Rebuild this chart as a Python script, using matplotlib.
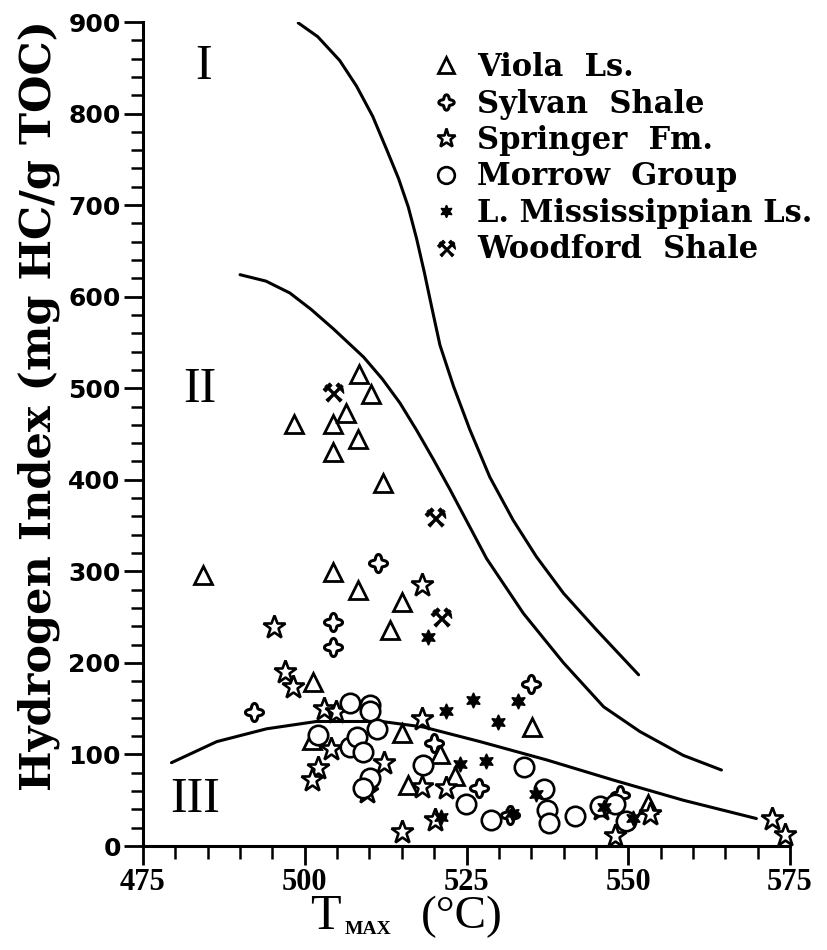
import numpy as np
import matplotlib
matplotlib.use("Agg")
import matplotlib.pyplot as plt
from matplotlib.lines import Line2D
from matplotlib.path import Path
from matplotlib.ticker import MultipleLocator

# ---------------- data ----------------
viola_x = [484.3, 498.3, 504.3, 504.3, 506.4, 508.4, 510.2, 508.3, 512.1, 504.3, 508.3, 515.1,
           513.2, 501.2, 515.0, 501.1, 520.9, 516.0, 523.2, 535.1, 553.1]
viola_y = [296, 461, 461, 430, 473, 516, 494, 445, 396, 299, 280, 267,
           236, 179, 123, 116, 101, 67, 77, 130, 46]

sylvan_x = [511.3, 504.3, 504.3, 492.2, 519.9, 527.0, 535.0, 531.8, 541.8, 548.8]
sylvan_y = [309, 245, 217, 146, 112, 63, 177, 34, 33, 56]

springer_x = [518.1, 495.3, 497.0, 498.2, 502.9, 504.9, 518.1, 504.1, 512.2, 502.1, 501.1,
              509.6, 518.1, 521.9, 515.0, 520.2, 545.8, 553.3, 548.0, 572.2, 574.2]
springer_y = [285, 239, 190, 174, 150, 146, 139, 106, 91, 85, 72,
              59, 64, 63, 15, 28, 40, 35, 11, 30, 12]

morrow_x = [507.0, 510.1, 510.1, 502.1, 507.0, 508.0, 509.0, 511.1, 510.1, 509.0, 518.2,
            524.9, 533.9, 537.0, 537.5, 537.7, 528.8, 541.8, 545.6, 548.0, 549.7]
morrow_y = [156, 154, 147, 121, 108, 119, 103, 128, 74, 63, 88,
            46, 86, 62, 39, 25, 28, 33, 44, 46, 27]

lmiss_x = [519.1, 521.8, 526.0, 532.9, 529.8, 524.0, 528.0, 521.1, 535.8, 532.0, 550.8, 546.2]
lmiss_y = [228, 147, 160, 158, 135, 90, 93, 32, 57, 36, 31, 43]

woodford_x = [504.3, 520.2, 521.1]
woodford_y = [496, 359, 250]

# boundary curves
c1_x = [499.0, 502.0, 505.4, 508.0, 510.5, 512.7, 514.5, 516.0, 517.3, 518.5, 519.7, 520.9, 523.0,
        525.5, 528.6, 532.2, 535.8, 540.0, 545.1, 551.6]
c1_y = [899, 884, 858, 830, 797, 760, 729, 698, 663, 626, 586, 547, 502,
        455, 403, 356, 316, 276, 236, 187]

c2_x = [490.0, 494.0, 497.7, 501.0, 504.4, 509.1, 512.0, 514.7, 517.3, 519.9, 522.4, 524.5,
        528.1, 533.8, 540.0, 546.2, 551.8, 558.5, 564.4]
c2_y = [624, 617, 604, 586, 565, 534, 510, 484, 454, 422, 390, 362,
        314, 254, 200, 152, 125, 99, 83]

c3_x = [479.4, 486.4, 494.1, 501.8, 511.9, 518.3, 527.1, 537.4, 547.7, 558.5, 569.8]
c3_y = [91, 114, 128, 136, 136, 130, 114, 94, 72, 50, 30]

series_labels = ["Viola  Ls.", "Sylvan  Shale", "Springer  Fm.", "Morrow  Group",
                 "L. Mississippian Ls.", "Woodford  Shale"]
region_labels = ["I", "II", "III"]
region_x = [484.3, 483.8, 483.0]
region_y = [851, 498, 50]

# ---------------- markers ----------------
th = np.linspace(0, 2 * np.pi, 121)
r = 1 + 0.28 * np.cos(4 * th)
quat = Path(np.column_stack([r * np.cos(th), r * np.sin(th)]), closed=True)

styles = [
    dict(marker="^", ms=13, mfc="white", mec="black", mew=2.0),
    dict(marker=quat, ms=13, mfc="white", mec="black", mew=2.2),
    dict(marker="*", ms=17, mfc="white", mec="black", mew=1.9),
    dict(marker="o", ms=14, mfc="white", mec="black", mew=1.9),
    dict(marker=(6, 1, 0), ms=11, mfc="black", mec="black", mew=1.0),
    dict(marker="$\u2692$", ms=15, mfc="black", mec="black", mew=0.6),
]
data = [(viola_x, viola_y), (sylvan_x, sylvan_y), (springer_x, springer_y),
        (morrow_x, morrow_y), (lmiss_x, lmiss_y), (woodford_x, woodford_y)]

W, H = 827, 950
fig = plt.figure(figsize=(W / 100, H / 100), dpi=100)
ax = fig.add_axes([143 / W, 1 - 846 / H, (790 - 143) / W, (846 - 22) / H])
ax.set_xlim(475, 575)
ax.set_ylim(0, 900)

for lx, ly in [(c1_x, c1_y), (c2_x, c2_y), (c3_x, c3_y)]:
    ax.plot(lx, ly, color="black", lw=2.2, solid_capstyle="round", solid_joinstyle="round", zorder=2)

for (xs, ys), st in zip(data, styles):
    ax.plot(xs, ys, ls="none", clip_on=False, zorder=3, **st)

for t, x, y in zip(region_labels, region_x, region_y):
    ax.text(x, y, t, fontsize=36, family="Liberation Serif", ha="center", va="center")

for s in ["top", "right"]:
    ax.spines[s].set_visible(False)
for s in ["left", "bottom"]:
    ax.spines[s].set_linewidth(2.2)

ax.xaxis.set_major_locator(MultipleLocator(25))
ax.xaxis.set_minor_locator(MultipleLocator(5))
ax.yaxis.set_major_locator(MultipleLocator(100))
ax.yaxis.set_minor_locator(MultipleLocator(20))
ax.tick_params(which="major", direction="out", length=14, width=2)
ax.tick_params(which="minor", direction="out", length=9, width=1.8)
ax.tick_params(axis="x", which="major", pad=2)
ax.tick_params(axis="y", which="major", pad=2)
for lab in ax.get_xticklabels():
    lab.set_fontfamily("Liberation Serif")
    lab.set_fontweight("bold")
    lab.set_fontsize(22)
for lab in ax.get_yticklabels():
    lab.set_fontfamily("DejaVu Sans")
    lab.set_fontweight("bold")
    lab.set_fontsize(18)

handles = [Line2D([], [], ls="none", **st) for st in styles]
for h, m in zip(handles, [11, 11, 14, 12, 9, 13]):
    h.set_markersize(m)
leg = ax.legend(handles, series_labels, loc="upper left", bbox_to_anchor=(434 / W, 1 - 52 / H),
                bbox_transform=fig.transFigure, frameon=False,
                prop=dict(family="DejaVu Serif", weight="bold", size=22),
                handlelength=0.8, handletextpad=0.6, labelspacing=0.18, borderpad=0, borderaxespad=0)

ax.set_ylabel("Hydrogen Index (mg HC/g TOC)", family="DejaVu Serif", weight="bold", fontsize=31)
ax.yaxis.set_label_coords(-0.128, 0.535)

fig.text(325 / W, 1 - 917 / H, "T", family="Liberation Serif", fontsize=36, ha="center", va="center")
fig.text(368 / W, 1 - 930 / H, "MAX", family="Liberation Serif", weight="bold", fontsize=14,
         ha="center", va="center")
fig.text(462 / W, 1 - 917 / H, "(\u00b0C)", family="Liberation Serif", fontsize=34,
         ha="center", va="center")

fig.savefig("out.png", dpi=100)
